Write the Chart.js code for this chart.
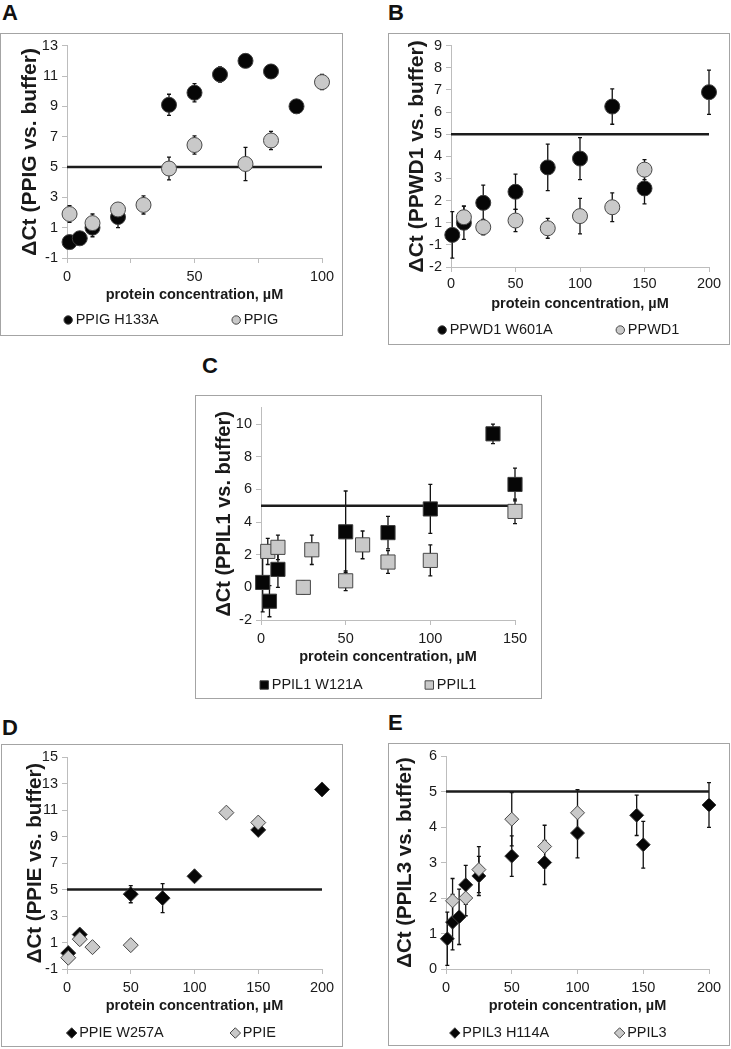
<!DOCTYPE html>
<html>
<head>
<meta charset="utf-8">
<script src="https://cdn.jsdelivr.net/npm/chart.js@4.4.0/dist/chart.umd.min.js"></script>
<style>
body { margin: 0; background: #fff; width: 731px; height: 1049px; position: relative; overflow: hidden;
       font-family: "Liberation Sans", Arial, Helvetica, sans-serif; }
.box { position: absolute; border: 1px solid #a4a4a4; box-sizing: border-box; }
canvas { position: absolute; }
.tag { position: absolute; font-weight: bold; font-size: 22px; line-height: 1; color: #111; }
</style>
</head>
<body>
<div class="tag" style="left:2px;top:2px">A</div>
<div class="tag" style="left:388px;top:2px">B</div>
<div class="tag" style="left:202px;top:355px">C</div>
<div class="tag" style="left:2px;top:717px">D</div>
<div class="tag" style="left:388px;top:712px">E</div>

<div class="box" style="left:0px;top:33px;width:343px;height:303px"></div>
<div class="box" style="left:388px;top:33px;width:342px;height:312px"></div>
<div class="box" style="left:195px;top:395px;width:347px;height:304px"></div>
<div class="box" style="left:1px;top:744px;width:342px;height:303px"></div>
<div class="box" style="left:388px;top:743px;width:342px;height:303px"></div>

<canvas id="chartA"></canvas>
<canvas id="chartB"></canvas>
<canvas id="chartC"></canvas>
<canvas id="chartD"></canvas>
<canvas id="chartE"></canvas>

<script>
// threshold drawn in every panel
const THRESHOLD = 5;

// ---- A : PPIG ----
const A_X_MUT = [1, 5, 10, 20, 40, 50, 60, 70, 80, 90];
const A_Y_MUT = [0.05, 0.3, 1.0, 1.7, 9.1, 9.9, 11.1, 12.0, 11.3, 9.0];
const A_E_MUT = [0, 0, 0.6, 0.7, 0.7, 0.6, 0.5, 0.2, 0.45, 0.4];
const A_X_WT = [1, 10, 20, 30, 40, 50, 70, 80, 100];
const A_Y_WT = [1.9, 1.3, 2.2, 2.5, 4.9, 6.45, 5.2, 6.75, 10.6];
const A_E_WT = [0.55, 0.6, 0.35, 0.6, 0.75, 0.6, 1.1, 0.6, 0.5];
const A_X_TICKS = [0, 25, 50, 75, 100];
const A_X_LABELS = ['0', '', '50', '', '100'];
const A_Y_TICKS = [-1, 1, 3, 5, 7, 9, 11, 13];
const A_Y_LABELS = ['-1', '1', '3', '5', '7', '9', '11', '13'];

// ---- B : PPWD1 (printed axis has no "0" label) ----
const B_X_MUT = [1, 10, 25, 50, 75, 100, 125, 150, 200];
const B_Y_MUT = [0.45, 1.0, 1.9, 2.4, 3.5, 3.9, 6.25, 2.55, 6.9];
const B_E_MUT = [1.05, 0.75, 0.8, 0.8, 1.05, 0.95, 0.8, 0.7, 1.0];
const B_X_WT = [10, 25, 50, 75, 100, 125, 150];
const B_Y_WT = [1.25, 0.8, 1.1, 0.75, 1.3, 1.7, 3.4];
const B_E_WT = [0.5, 0.35, 0.5, 0.45, 0.8, 0.65, 0.45];
const B_X_TICKS = [0, 50, 100, 150, 200];
const B_X_LABELS = ['0', '50', '100', '150', '200'];
const B_Y_TICKS = [-1, 0, 1, 2, 3, 4, 5, 6, 7, 8, 9];
const B_Y_LABELS = ['-2', '-1', '1', '2', '3', '4', '5', '6', '7', '8', '9'];

// ---- C : PPIL1 ----
const C_X_MUT = [1, 5, 10, 50, 75, 100, 137, 150];
const C_Y_MUT = [0.3, -0.85, 1.1, 3.4, 3.35, 4.8, 9.4, 6.3];
const C_E_MUT = [1.8, 0.95, 1.1, 2.5, 1.0, 1.5, 0.6, 1.0];
const C_X_WT = [4, 10, 25, 30, 50, 60, 75, 100, 150];
const C_Y_WT = [2.2, 2.45, 0.0, 2.3, 0.4, 2.6, 1.55, 1.65, 4.65];
const C_E_WT = [0.8, 0.75, 0.4, 0.9, 0.6, 0.85, 0.7, 0.95, 0.75];
const C_X_TICKS = [0, 50, 100, 150];
const C_X_LABELS = ['0', '50', '100', '150'];
const C_Y_TICKS = [-2, 0, 2, 4, 6, 8, 10];
const C_Y_LABELS = ['-2', '0', '2', '4', '6', '8', '10'];

// ---- D : PPIE ----
const D_X_MUT = [1, 10, 50, 75, 100, 150, 200];
const D_Y_MUT = [0.2, 1.6, 4.65, 4.35, 6.0, 9.5, 12.55];
const D_E_MUT = [0.2, 0.2, 0.65, 1.1, 0, 0, 0];
const D_X_WT = [1, 10, 20, 50, 125, 150];
const D_Y_WT = [-0.15, 1.25, 0.65, 0.8, 10.8, 10.05];
const D_E_WT = [0.3, 0.4, 0.15, 0.4, 0, 0];
const D_X_TICKS = [0, 50, 100, 150, 200];
const D_X_LABELS = ['0', '50', '100', '150', '200'];
const D_Y_TICKS = [-1, 1, 3, 5, 7, 9, 11, 13, 15];
const D_Y_LABELS = ['-1', '1', '3', '5', '7', '9', '11', '13', '15'];

// ---- E : PPIL3 ----
const E_X_MUT = [1, 5, 10, 15, 25, 50, 75, 100, 145, 150, 200];
const E_Y_MUT = [0.85, 1.32, 1.47, 2.37, 2.62, 3.18, 3.0, 3.83, 4.33, 3.5, 4.62];
const E_E_MUT = [0.75, 0.78, 0.78, 0.55, 0.55, 0.57, 0.62, 0.7, 0.57, 0.66, 0.63];
const E_X_WT = [5, 15, 25, 50, 75, 100];
const E_Y_WT = [1.92, 2.0, 2.8, 4.22, 3.45, 4.4];
const E_E_WT = [0.63, 0.5, 0.65, 0.75, 0.6, 0.65];
const E_X_TICKS = [0, 50, 100, 150, 200];
const E_X_LABELS = ['0', '50', '100', '150', '200'];
const E_Y_TICKS = [0, 1, 2, 3, 4, 5, 6];
const E_Y_LABELS = ['0', '1', '2', '3', '4', '5', '6'];

const FONT = '"Liberation Sans", Arial, Helvetica, sans-serif';
const AXIS_GREY = '#bdbdbd';

function toPoints(xs, ys) {
    return xs.map((x, i) => ({ x: x, y: ys[i] }));
}

// vertical error bars with small caps, drawn under the markers
const errorBars = {
    id: 'errorBars',
    beforeDatasetsDraw(chart) {
        const ctx = chart.ctx;
        const xs = chart.scales.x, ys = chart.scales.y;
        ctx.save();
        ctx.strokeStyle = '#111';
        ctx.lineWidth = 1.3;
        chart.data.datasets.forEach(ds => {
            if (!ds.errors) return;
            ds.data.forEach((p, i) => {
                const e = ds.errors[i];
                if (!e) return;
                const px = xs.getPixelForValue(p.x);
                const top = ys.getPixelForValue(p.y + e);
                const bot = ys.getPixelForValue(p.y - e);
                ctx.beginPath();
                ctx.moveTo(px, top); ctx.lineTo(px, bot);
                ctx.moveTo(px - 2, top); ctx.lineTo(px + 2, top);
                ctx.moveTo(px - 2, bot); ctx.lineTo(px + 2, bot);
                ctx.stroke();
            });
        });
        ctx.restore();
    }
};

function drawMarker(ctx, style, x, y, r) {
    ctx.beginPath();
    if (style === 'circle') {
        ctx.arc(x, y, r, 0, Math.PI * 2);
    } else if (style === 'rect') {
        ctx.rect(x - r, y - r, 2 * r, 2 * r);
    } else {
        ctx.moveTo(x, y - r * 1.25); ctx.lineTo(x + r * 1.25, y);
        ctx.lineTo(x, y + r * 1.25); ctx.lineTo(x - r * 1.25, y);
        ctx.closePath();
    }
    ctx.fill();
    ctx.stroke();
}

// legend row at the bottom of the box, two items spread apart
const bottomLegend = {
    id: 'bottomLegend',
    afterDraw(chart, args, opts) {
        const ctx = chart.ctx;
        const items = chart.data.datasets.filter(d => d.inLegend);
        ctx.save();
        ctx.font = '14.5px ' + FONT;
        ctx.textBaseline = 'middle';
        const widths = items.map(d => 13 + ctx.measureText(d.label).width);
        const total = widths.reduce((a, b) => a + b, 0) + opts.gap * (items.length - 1);
        let x = (chart.width - total) / 2;
        const y = chart.height - opts.fromBottom;
        items.forEach((d, i) => {
            ctx.fillStyle = d.backgroundColor;
            ctx.strokeStyle = d.borderColor;
            ctx.lineWidth = 1;
            drawMarker(ctx, d.pointStyle, x + 4.5, y, 4.2);
            ctx.fillStyle = '#1a1a1a';
            ctx.fillText(d.label, x + 12, y);
            x += widths[i] + opts.gap;
        });
        ctx.restore();
    }
};

function makePanel(p) {
    const canvas = document.getElementById(p.id);
    const [bx, by, bw, bh] = p.box;
    const [pl, pt, pr, pb] = p.plot;
    canvas.width = bw;
    canvas.height = bh;
    canvas.style.left = bx + 'px';
    canvas.style.top = by + 'px';
    const xH = 46;
    const titleFont = { family: FONT, size: p.yTitleSize, weight: 'bold' };
    const titleLine = p.yTitleSize * 1.2;

    const datasets = [
        {
            label: 'threshold',
            data: [{ x: 0, y: THRESHOLD }, { x: p.lineTo, y: THRESHOLD }],
            showLine: true, borderColor: '#1c1c1c', borderWidth: 2.6, pointRadius: 0, order: 3, clip: false
        },
        {
            label: p.mutLabel, data: toPoints(p.mutX, p.mutY), errors: p.mutE, inLegend: true,
            pointStyle: p.shape, pointRadius: p.r, backgroundColor: '#060606', borderColor: '#3c3c3c',
            borderWidth: 1, order: 2, clip: false
        },
        {
            label: p.wtLabel, data: toPoints(p.wtX, p.wtY), errors: p.wtE, inLegend: true,
            pointStyle: p.shape, pointRadius: p.r, backgroundColor: '#c9c9c9', borderColor: '#474747',
            borderWidth: 1, order: 1, clip: false
        }
    ];

    new Chart(canvas, {
        type: 'scatter',
        data: { datasets: datasets },
        options: {
            responsive: false,
            animation: false,
            events: [],
            layout: {
                padding: {
                    left: 0,
                    top: pt - by,
                    right: bx + bw - pr,
                    bottom: by + bh - pb - xH
                }
            },
            scales: {
                x: {
                    type: 'linear',
                    min: p.xTicks[0],
                    max: p.xTicks[p.xTicks.length - 1],
                    afterBuildTicks: s => { s.ticks = p.xTicks.map(v => ({ value: v })); },
                    afterFit: s => { s.height = xH; },
                    ticks: {
                        autoSkip: false, maxRotation: 0, padding: p.xTickPad, color: '#1a1a1a',
                        font: { family: FONT, size: 14.5 },
                        callback: (v, i) => p.xLabels[i]
                    },
                    grid: { drawOnChartArea: false, tickLength: 5, color: AXIS_GREY },
                    border: { color: AXIS_GREY },
                    title: {
                        display: true, text: 'protein concentration, µM', color: '#1a1a1a',
                        font: { family: FONT, size: 14.5, weight: 'bold' }, padding: 0
                    }
                },
                y: {
                    type: 'linear',
                    min: p.yMin,
                    max: p.yMax,
                    afterBuildTicks: s => { s.ticks = p.yTicks.map(v => ({ value: v })); },
                    afterFit: s => { s.width = pl - bx; },
                    ticks: {
                        padding: 4, color: '#1a1a1a',
                        font: { family: FONT, size: 14.5 },
                        callback: (v, i) => p.yLabels[i]
                    },
                    grid: { drawOnChartArea: false, tickLength: 5, color: AXIS_GREY },
                    border: { color: AXIS_GREY },
                    title: {
                        display: true, text: p.yTitle, color: '#1a1a1a', font: titleFont,
                        padding: { top: p.yTitleX - titleLine / 2, bottom: 0 }
                    }
                }
            },
            plugins: {
                legend: { display: false },
                tooltip: { enabled: false },
                bottomLegend: { gap: p.gap, fromBottom: p.legendFromBottom }
            }
        },
        plugins: [errorBars, bottomLegend]
    });
}

makePanel({
    id: 'chartA', box: [0, 33, 343, 303], plot: [67, 45, 322, 258],
    xTicks: A_X_TICKS, xLabels: A_X_LABELS, yTicks: A_Y_TICKS, yLabels: A_Y_LABELS, yMin: -1, yMax: 13,
    mutX: A_X_MUT, mutY: A_Y_MUT, mutE: A_E_MUT, wtX: A_X_WT, wtY: A_Y_WT, wtE: A_E_WT,
    mutLabel: 'PPIG H133A', wtLabel: 'PPIG', shape: 'circle', r: 7.5, lineTo: 100,
    yTitle: 'ΔCt (PPIG vs. buffer)', yTitleSize: 21, yTitleX: 30, xTickPad: 5, gap: 72, legendFromBottom: 16
});

makePanel({
    id: 'chartB', box: [388, 33, 342, 312], plot: [451, 45, 709, 267],
    xTicks: B_X_TICKS, xLabels: B_X_LABELS, yTicks: B_Y_TICKS, yLabels: B_Y_LABELS, yMin: -1, yMax: 9,
    mutX: B_X_MUT, mutY: B_Y_MUT, mutE: B_E_MUT, wtX: B_X_WT, wtY: B_Y_WT, wtE: B_E_WT,
    mutLabel: 'PPWD1 W601A', wtLabel: 'PPWD1', shape: 'circle', r: 7.5, lineTo: 200,
    yTitle: 'ΔCt (PPWD1 vs. buffer)', yTitleSize: 21, yTitleX: 29, xTickPad: 3, gap: 62, legendFromBottom: 15
});

makePanel({
    id: 'chartC', box: [195, 395, 347, 304], plot: [261, 407, 515, 620],
    xTicks: C_X_TICKS, xLabels: C_X_LABELS, yTicks: C_Y_TICKS, yLabels: C_Y_LABELS, yMin: -2, yMax: 11,
    mutX: C_X_MUT, mutY: C_Y_MUT, mutE: C_E_MUT, wtX: C_X_WT, wtY: C_Y_WT, wtE: C_E_WT,
    mutLabel: 'PPIL1 W121A', wtLabel: 'PPIL1', shape: 'rect', r: 10, lineTo: 150,
    yTitle: 'ΔCt (PPIL1 vs. buffer)', yTitleSize: 20, yTitleX: 29, xTickPad: 5, gap: 61, legendFromBottom: 14
});

makePanel({
    id: 'chartD', box: [1, 744, 342, 303], plot: [67, 757, 322, 969],
    xTicks: D_X_TICKS, xLabels: D_X_LABELS, yTicks: D_Y_TICKS, yLabels: D_Y_LABELS, yMin: -1, yMax: 15,
    mutX: D_X_MUT, mutY: D_Y_MUT, mutE: D_E_MUT, wtX: D_X_WT, wtY: D_Y_WT, wtE: D_E_WT,
    mutLabel: 'PPIE W257A', wtLabel: 'PPIE', shape: 'rectRot', r: 7.5, lineTo: 200,
    yTitle: 'ΔCt (PPIE vs. buffer)', yTitleSize: 20.5, yTitleX: 34, xTickPad: 5, gap: 66, legendFromBottom: 14
});

makePanel({
    id: 'chartE', box: [388, 743, 342, 303], plot: [446, 756, 709, 969],
    xTicks: E_X_TICKS, xLabels: E_X_LABELS, yTicks: E_Y_TICKS, yLabels: E_Y_LABELS, yMin: 0, yMax: 6,
    mutX: E_X_MUT, mutY: E_Y_MUT, mutE: E_E_MUT, wtX: E_X_WT, wtY: E_Y_WT, wtE: E_E_WT,
    mutLabel: 'PPIL3 H114A', wtLabel: 'PPIL3', shape: 'rectRot', r: 7, lineTo: 200,
    yTitle: 'ΔCt (PPIL3 vs. buffer)', yTitleSize: 20.5, yTitleX: 17, xTickPad: 5, gap: 65, legendFromBottom: 13
});
</script>
</body>
</html>
